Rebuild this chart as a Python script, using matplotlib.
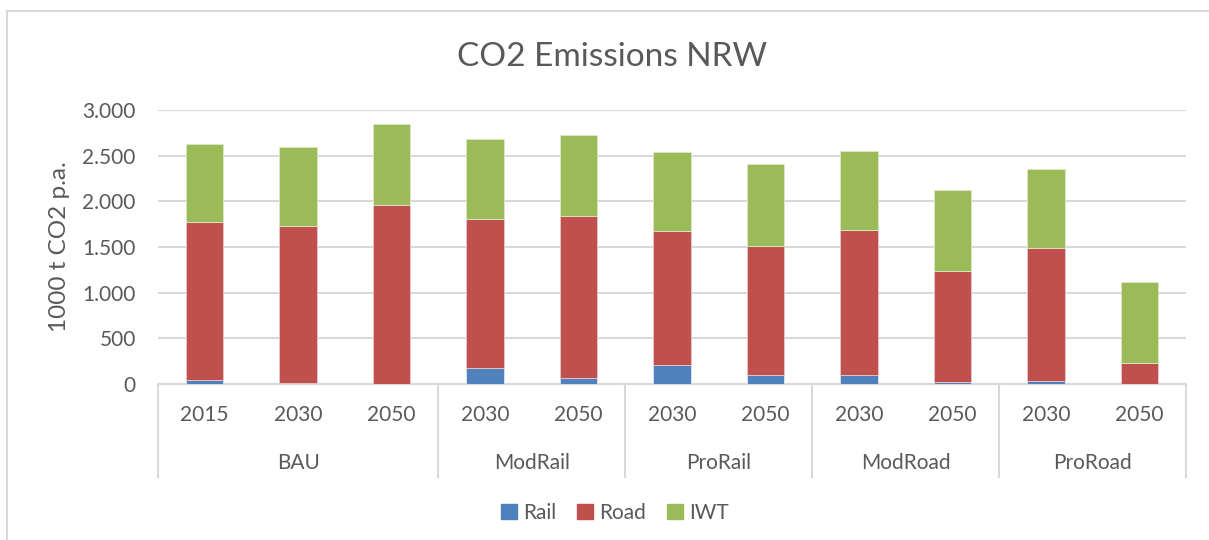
import matplotlib.pyplot as plt
import matplotlib.transforms as mtransforms
from matplotlib.lines import Line2D
from matplotlib.patches import Patch
import numpy as np

plt.rcParams['font.family'] = ['Lato', 'DejaVu Sans']

# data (1000 t CO2 p.a.)
years = ["2015", "2030", "2050", "2030", "2050", "2030", "2050", "2030", "2050", "2030", "2050"]
scenarios = ["BAU", "ModRail", "ProRail", "ModRoad", "ProRoad"]
group_sizes = [3, 2, 2, 2, 2]
rail = [44, 15, 5, 176, 70, 209, 99, 99, 22, 37, 3]
road = [1731, 1719, 1956, 1635, 1770, 1463, 1416, 1588, 1215, 1452, 224]
iwt = [848, 864, 889, 867, 886, 867, 889, 867, 885, 860, 885]

text_col = "#595959"
colors = {"Rail": "#4F81BD", "Road": "#C0504D", "IWT": "#9BBB59"}
fs = 15

fig = plt.figure(figsize=(12.09, 5.40), dpi=100)
ax = fig.add_axes([158 / 1209, 1 - 384 / 540, (1186 - 158) / 1209, (384 - 110) / 540])

x = np.arange(len(years))
rail = np.array(rail)
road = np.array(road)
iwt = np.array(iwt)
w = 0.4
ax.bar(x, rail, w, color=colors["Rail"], edgecolor="#dfe6f0", linewidth=0.6, zorder=3)
ax.bar(x, road, w, bottom=rail, color=colors["Road"], edgecolor="#e8c8c8", linewidth=0.6, zorder=3)
ax.bar(x, iwt, w, bottom=rail + road, color=colors["IWT"], edgecolor="#dde8c8", linewidth=0.6, zorder=3)

ax.set_xlim(-0.5, len(years) - 0.5)
ax.set_ylim(0, 3000)
ax.set_yticks(range(0, 3001, 500))
ax.set_yticklabels([f"{v:,}".replace(",", ".") for v in range(0, 3001, 500)],
                   fontsize=fs, color=text_col)
ax.tick_params(axis="y", length=0, pad=16)
ax.set_xticks([])
ax.grid(axis="y", color="#d9d9d9", linewidth=1.5, zorder=0)
for s in ["top", "right", "left"]:
    ax.spines[s].set_visible(False)
ax.spines["bottom"].set_color("#d9d9d9")
ax.spines["bottom"].set_linewidth(1.5)

# two-level category axis
trans = mtransforms.blended_transform_factory(ax.transData, ax.transAxes)
for i, yr in enumerate(years):
    ax.text(i, -31 / 274, yr, transform=trans, ha="center", va="center",
            fontsize=fs, color=text_col)
edges = np.concatenate([[0], np.cumsum(group_sizes)]) - 0.5
for xe in edges:
    ax.add_line(Line2D([xe, xe], [0, -93 / 274], transform=trans, color="#d9d9d9",
                       linewidth=1.5, clip_on=False))
for name, a, b in zip(scenarios, edges[:-1], edges[1:]):
    ax.text((a + b) / 2, -79 / 274, name, transform=trans, ha="center", va="center",
            fontsize=fs, color=text_col)

ax.set_ylabel("1000 t CO2 p.a.", fontsize=17.5, color=text_col, labelpad=9)
fig.text(612 / 1209, 1 - 57 / 540, "CO2 Emissions NRW", ha="center", va="center",
         fontsize=24, color=text_col)

handles = [Patch(color=colors[k], label=k) for k in ["Rail", "Road", "IWT"]]
fig.legend(handles=handles, loc="center", bbox_to_anchor=(615 / 1209, 1 - 513 / 540),
           ncol=3, frameon=False, fontsize=fs, handlelength=0.75, handleheight=0.75,
           handletextpad=0.3, columnspacing=1.0, labelcolor=text_col)

# chart frame
fig.add_artist(Line2D([7 / 1209, 7 / 1209], [0, 1 - 11 / 540], transform=fig.transFigure,
                      color="#d9d9d9", linewidth=1.5))
fig.add_artist(Line2D([7 / 1209, 1], [1 - 11 / 540, 1 - 11 / 540], transform=fig.transFigure,
                      color="#d9d9d9", linewidth=1.5))

fig.savefig("out.png", dpi=100)
